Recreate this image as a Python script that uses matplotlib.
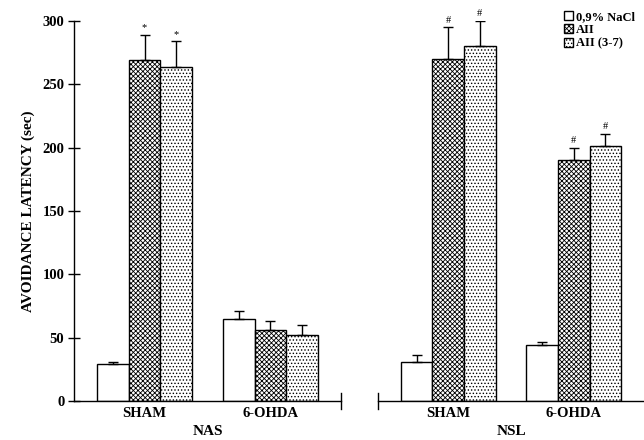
import matplotlib
matplotlib.use("Agg")
import matplotlib.pyplot as plt
import numpy as np

plt.rcParams['font.family'] = ['Liberation Serif', 'DejaVu Serif']
plt.rcParams['font.weight'] = 'bold'
plt.rcParams['hatch.linewidth'] = 0.6

groups = ['SHAM', '6-OHDA']
series = ['0,9% NaCl', 'AII', 'AII (3-7)']

# NAS panel
nas_means = [[29, 65], [269, 56], [264, 52]]
nas_err = [[2, 6], [20, 7], [20, 8]]
nas_marks = [['', ''], ['*', ''], ['*', '']]

# NSL panel
nsl_means = [[31, 44], [270, 190], [280, 201]]
nsl_err = [[5, 2.5], [25, 10], [20, 10]]
nsl_marks = [['', ''], ['#', '#'], ['#', '#']]

hatches = ['', 'xxxxxxx', '.....']
width = 0.252

fig = plt.figure(figsize=(6.44, 4.4), dpi=100)
ax1 = fig.add_axes([0.115, 0.0886, 0.4145, 0.8636])
ax2 = fig.add_axes([0.587, 0.0886, 0.413, 0.8636])

def draw_panel(ax, means, errs, marks, label):
    x = np.arange(len(groups))
    handles = []
    for i, name in enumerate(series):
        pos = x + (i - 1) * width
        b = ax.bar(pos, means[i], width, color='white', edgecolor='black',
                   linewidth=1.0, hatch=hatches[i], label=name, zorder=2)
        handles.append(b)
        ax.errorbar(pos, means[i], yerr=[np.zeros(len(groups)), errs[i]],
                    fmt='none', ecolor='black', elinewidth=1.0, capsize=3.6,
                    capthick=1.0, zorder=3)
        for p, m, e, t in zip(pos, means[i], errs[i], marks[i]):
            if t:
                ax.text(p, m + e + 2, t, ha='center', va='bottom',
                        fontsize=7.5, fontweight='normal')
    ax.set_xlim(-0.56, 1.56)
    ax.set_ylim(0, 300)
    ax.set_xticks(x)
    ax.set_xticklabels(groups, fontsize=10.5, fontweight='bold')
    ax.tick_params(axis='x', length=0, pad=4)
    ax.set_xlabel(label, fontsize=11, fontweight='bold', labelpad=4)
    ax.spines['top'].set_visible(False)
    ax.spines['right'].set_visible(False)
    ax.patch.set_visible(False)
    return handles

handles = draw_panel(ax1, nas_means, nas_err, nas_marks, 'NAS')
draw_panel(ax2, nsl_means, nsl_err, nsl_marks, 'NSL')

ax1.set_yticks([0, 50, 100, 150, 200, 250, 300])
ax1.tick_params(axis='y', direction='inout', length=8, width=1.0, labelsize=10.5, pad=3)
ax1.set_ylabel('AVOIDANCE LATENCY (sec)', fontsize=11, fontweight='bold', labelpad=5)
for lab in ax1.get_yticklabels():
    lab.set_fontweight('bold')
ax1.spines['left'].set_linewidth(1.0)
ax1.spines['bottom'].set_linewidth(1.0)
ax1.plot([1, 1], [-0.02, 0.02], color='black', lw=1.0,
         transform=ax1.transAxes, clip_on=False)

ax2.spines['left'].set_visible(False)
ax2.spines['bottom'].set_linewidth(1.0)
ax2.set_yticks([])
ax2.plot([0, 0], [-0.02, 0.02], color='black', lw=1.0,
         transform=ax2.transAxes, clip_on=False)

leg = fig.legend(handles=handles, loc='upper right', bbox_to_anchor=(1.0, 0.995),
                 frameon=False, handlelength=0.75, handleheight=0.75,
                 handletextpad=0.25, labelspacing=0.1, borderpad=0.2,
                 prop={'weight': 'bold', 'size': 9})

fig.savefig('out.png', dpi=100)
